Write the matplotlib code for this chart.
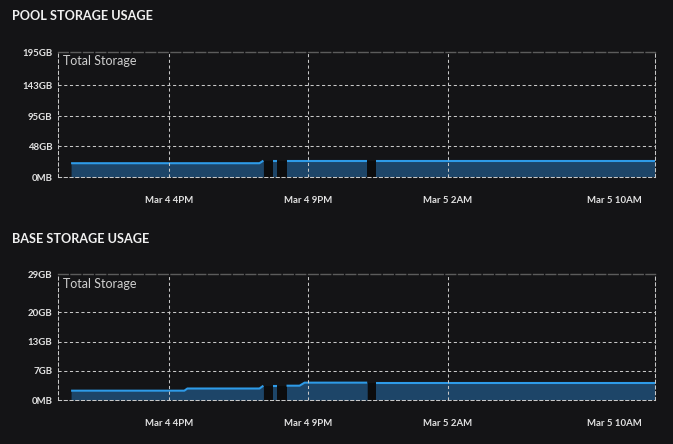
import numpy as np
import matplotlib
matplotlib.use("Agg")
import matplotlib.pyplot as plt

plt.rcParams['font.family'] = ['Lato', 'DejaVu Sans']

# ---- data (hours since Mar 4 00:00) ----
pool_hours = [12.47, 19.24, 19.38, 19.72, 19.88, 20.21, 23.11, 23.44, 33.45]
pool_gb = [21.5, 21.5, 25.5, 25.5, 25.5, 25.5, 25.5, 25.5, 25.5]
pool_segment = [0, 0, 0, 1, 1, 2, 2, 3, 3]

base_hours = [12.47, 16.54, 16.65, 19.24, 19.38, 19.72, 19.88, 20.21, 20.68, 20.86, 23.11, 23.44, 33.45]
base_gb = [2.15, 2.15, 2.65, 2.65, 3.3, 3.3, 3.3, 3.3, 3.3, 4.0, 4.0, 4.0, 4.0]
base_segment = [0, 0, 0, 0, 0, 1, 1, 2, 2, 2, 2, 3, 3]

x_range = [12.0, 33.45]
x_tick_pos = [16, 21, 26, 32]
x_tick_labels = ['Mar 4 4PM', 'Mar 4 9PM', 'Mar 5 2AM', 'Mar 5 10AM']
x_grid_pos = [16, 21, 26]

pool_yticks = [0, 48, 95, 143, 195]
pool_ylabels = ['0MB', '48GB', '95GB', '143GB', '195GB']
base_yticks = [0, 6.8, 13.4, 20.2, 29]
base_ylabels = ['0MB', '7GB', '13GB', '20GB', '29GB']

titles = ['POOL STORAGE USAGE', 'BASE STORAGE USAGE']

BG = '#141416'
GAP = '#0c0c0d'
FILL = '#1d4568'
LINE = '#2e9be8'
GRID = '#c8c8c8'
TXT = '#e2e2e2'

fig = plt.figure(figsize=(6.73, 4.44), dpi=100, facecolor=BG)

W, H = 673, 444
def ax_rect(l, t, r, b):
    return [l / W, 1 - b / H, (r - l) / W, (b - t) / H]

axes_specs = [
    (ax_rect(58, 52, 655, 177), pool_hours, pool_gb, pool_segment, pool_yticks, pool_ylabels, 16),
    (ax_rect(58, 274.3, 655, 400), base_hours, base_gb, base_segment, base_yticks, base_ylabels, 239),
]

for (rect, hrs, vals, seg, yt, yl, ty), title in zip(axes_specs, titles):
    ax = fig.add_axes(rect)
    ax.set_facecolor(BG)
    hrs = np.array(hrs); vals = np.array(vals); seg = np.array(seg)
    segs = sorted(set(seg))
    # gaps between segments
    for a, b in zip(segs[:-1], segs[1:]):
        ea = hrs[seg == a][-1]; sb = hrs[seg == b][0]
        lvl = min(vals[seg == a][-1], vals[seg == b][0])
        ax.fill_between([ea, sb], [0, 0], [lvl, lvl], color=GAP, lw=0, zorder=1)
    for s in segs:
        m = seg == s
        ax.fill_between(hrs[m], 0, vals[m], color=FILL, lw=0, zorder=2)
        ax.plot(hrs[m], vals[m], color=LINE, lw=1.5, zorder=3, solid_capstyle='butt')
    ax.set_xlim(*x_range)
    ax.set_ylim(yt[0], yt[-1])
    ax.set_yticks(yt)
    ax.set_yticklabels(yl)
    ax.set_xticks(x_tick_pos)
    ax.set_xticklabels(x_tick_labels)
    ax.tick_params(length=0, colors=TXT, labelsize=6.9)
    ax.tick_params(axis='y', pad=4)
    ax.tick_params(axis='x', pad=14)
    for lab in ax.get_xticklabels() + ax.get_yticklabels():
        lab.set_fontweight('bold')
    for y in yt[1:-1]:
        ax.axhline(y, color=GRID, lw=0.75, ls=(0, (3, 2.5)), zorder=4)
    for x in x_grid_pos:
        ax.axvline(x, color=GRID, lw=0.75, ls=(0, (3, 2.5)), zorder=4)
    for side in ['left', 'right', 'bottom']:
        ax.spines[side].set_color(GRID)
        ax.spines[side].set_linewidth(0.75)
        ax.spines[side].set_linestyle((0, (3, 2.5)))
        ax.spines[side].set_zorder(5)
    ax.spines['top'].set_color('#5c5c5c')
    ax.spines['top'].set_linewidth(1.0)
    ax.spines['top'].set_linestyle((0, (7, 2)))
    ax.text(5 / 597, 0.925, 'Total Storage', transform=ax.transAxes, color='#cfcfcf',
            fontsize=9.0, va='center', ha='left')
    fig.text(12 / W, 1 - ty / H, title, color='#f0f0f0', fontsize=9.1, fontweight='bold',
             va='center', ha='left')

fig.savefig('out.png', dpi=100, facecolor=BG)
